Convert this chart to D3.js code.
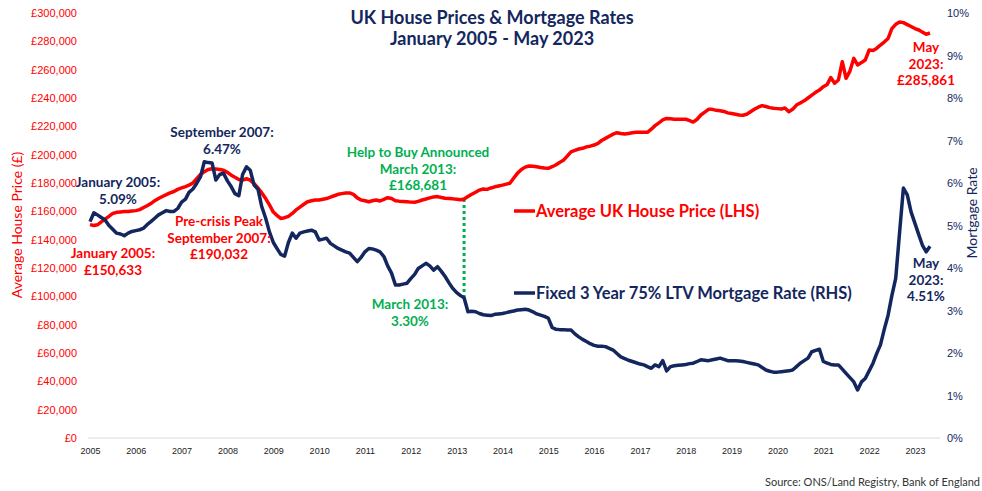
<!DOCTYPE html>
<html>
<head>
<meta charset="utf-8">
<script src="https://cdn.jsdelivr.net/npm/d3@7"></script>
<style>
  html, body { margin: 0; padding: 0; background: #fff; }
  svg { display: block; font-family: Lato, "Open Sans", sans-serif; }
</style>
</head>
<body>
<svg id="chart" width="982" height="491"></svg>
<script>
// monthly series, Jan 2005 - May 2023
var startYear = 2005;
var yearTicks = d3.range(2005, 2024);

// average UK house price, £ thousands
var housePriceK = [
  150.633, 150.0, 150.5, 152.5, 154.5, 156.5, 158.5, 159.3, 159.6, 159.8, 159.9, 160.2,
  160.5, 161.2, 162.5, 164.0, 165.5, 167.5, 169.0, 170.5, 171.8, 173.0, 174.0, 175.5,
  176.5, 177.5, 178.5, 180.0, 183.0, 186.0, 188.0, 189.5, 190.032, 189.8, 189.5, 189.0,
  187.5, 185.5, 184.0, 182.5, 182.0, 183.0, 182.0, 179.5, 176.5, 173.0, 169.0, 164.5,
  159.5, 157.0, 155.0, 155.5, 156.5, 158.5, 161.0, 163.0, 165.0, 166.8, 167.5, 168.0,
  168.0, 168.5, 169.0, 170.0, 171.0, 172.0, 172.5, 173.0, 173.0, 172.0, 169.5, 168.0,
  167.5, 166.8, 167.5, 168.0, 167.3, 168.5, 169.6, 169.0, 167.5, 167.2, 167.0, 166.8,
  166.5, 166.4, 167.0, 168.0, 168.7, 169.5, 170.2, 170.4, 169.8, 169.2, 169.0, 168.8,
  168.5, 168.2, 168.681, 170.4, 172.0, 173.5, 175.0, 175.8, 175.5, 176.5, 177.3, 177.9,
  178.5, 179.2, 179.8, 183.5, 187.0, 189.5, 191.2, 192.0, 191.8, 191.5, 191.0, 190.6,
  190.4, 191.5, 192.7, 194.5, 196.0, 199.0, 202.0, 203.0, 204.0, 204.5, 205.5, 206.0,
  206.8, 208.0, 210.0, 211.5, 213.0, 214.5, 215.5, 215.0, 214.6, 215.0, 215.4, 215.8,
  215.8, 215.8, 215.8, 218.0, 220.5, 222.5, 224.5, 225.6, 225.3, 225.0, 225.0, 225.0,
  225.0, 224.0, 223.0, 225.0, 228.0, 230.0, 232.0, 232.0, 231.3, 231.0, 230.5, 229.5,
  229.0, 228.5, 228.0, 227.8, 228.5, 230.3, 232.0, 233.5, 234.6, 234.0, 233.2, 232.7,
  232.5, 232.2, 233.0, 230.3, 232.0, 235.0, 236.5, 238.0, 240.0, 242.0, 244.0, 245.6,
  248.0, 249.6, 254.4, 250.4, 252.7, 265.6, 253.9, 259.0, 268.0, 263.3, 265.0, 266.8,
  273.9, 273.5, 275.0, 277.4, 279.5, 282.0, 289.0, 292.0, 293.6, 293.2, 291.8, 290.5,
  289.0, 288.0, 286.5, 285.0, 285.861
];

// fixed 3 year 75% LTV mortgage rate, %
var mortgageRate = [
  5.09, 5.30, 5.25, 5.19, 5.13, 5.00, 4.91, 4.82, 4.80, 4.76, 4.82, 4.86,
  4.88, 4.90, 4.93, 5.02, 5.09, 5.17, 5.25, 5.30, 5.35, 5.33, 5.33, 5.40,
  5.55, 5.62, 5.78, 5.86, 5.99, 6.15, 6.50, 6.48, 6.47, 6.07, 6.20, 6.23,
  6.05, 5.91, 5.75, 5.70, 6.20, 6.38, 6.30, 5.95, 5.85, 5.44, 5.17, 4.85,
  4.60, 4.45, 4.32, 4.28, 4.60, 4.82, 4.70, 4.82, 4.85, 4.87, 4.89, 4.85,
  4.66, 4.68, 4.70, 4.58, 4.52, 4.46, 4.42, 4.38, 4.35, 4.25, 4.15, 4.25,
  4.38, 4.46, 4.45, 4.42, 4.38, 4.27, 4.05, 3.88, 3.60, 3.60, 3.62, 3.64,
  3.75, 3.85, 3.99, 4.05, 4.11, 4.05, 3.95, 4.03, 3.92, 3.80, 3.65, 3.52,
  3.42, 3.35, 3.30, 2.97, 2.98, 2.97, 2.93, 2.90, 2.89, 2.88, 2.91, 2.92,
  2.93, 2.95, 2.97, 2.99, 3.01, 3.02, 3.03, 3.01, 2.97, 2.92, 2.89, 2.86,
  2.82, 2.60, 2.56, 2.55, 2.55, 2.54, 2.54, 2.45, 2.38, 2.32, 2.27, 2.22,
  2.18, 2.16, 2.16, 2.15, 2.11, 2.07, 1.99, 1.91, 1.87, 1.83, 1.80, 1.77,
  1.74, 1.72, 1.68, 1.64, 1.72, 1.68, 1.82, 1.58, 1.68, 1.70, 1.71, 1.72,
  1.73, 1.75, 1.76, 1.80, 1.84, 1.83, 1.82, 1.84, 1.86, 1.88, 1.85, 1.82,
  1.82, 1.82, 1.81, 1.80, 1.78, 1.76, 1.74, 1.72, 1.66, 1.60, 1.57, 1.55,
  1.55, 1.56, 1.57, 1.58, 1.60, 1.68, 1.76, 1.82, 1.88, 2.03, 2.06, 2.09,
  1.80, 1.76, 1.73, 1.72, 1.72, 1.62, 1.52, 1.42, 1.32, 1.13, 1.32, 1.40,
  1.58, 1.76, 1.98, 2.19, 2.55, 2.89, 3.35, 3.76, 4.85, 5.88, 5.72, 5.32,
  5.05, 4.78, 4.54, 4.38, 4.51
];

var priceTicks = d3.range(0, 300001, 20000);
var rateTicks = d3.range(0, 11, 1);

var RED = "#ff0000";
var NAVY = "#13275e";
var GREEN = "#00b050";

var svg = d3.select("#chart");

// months -> dates
var dates = housePriceK.map(function (d, i) {
  return new Date(startYear, i, 1);
});

var x = d3.scaleTime()
  .domain([dates[0], dates[dates.length - 1]])
  .range([90, 930]);
var yL = d3.scaleLinear().domain([0, 300000]).range([438, 13]);
var yR = d3.scaleLinear().domain([0, 10]).range([438, 13]);

// x axis base line
svg.append("line")
  .attr("x1", 88).attr("x2", 940)
  .attr("y1", yL(0)).attr("y2", yL(0))
  .attr("stroke", "#d9d9d9").attr("stroke-width", 1);

var xAxis = svg.append("g")
  .attr("transform", "translate(0," + yL(0) + ")")
  .call(d3.axisBottom(x)
    .tickValues(yearTicks.map(function (y) { return new Date(y, 0, 1); }))
    .tickFormat(d3.timeFormat("%Y"))
    .tickSize(0)
    .tickPadding(10));
xAxis.select(".domain").remove();
xAxis.selectAll("text")
  .attr("fill", "#222")
  .style("font-size", "9px");

// left axis
var leftAxis = svg.append("g")
  .attr("transform", "translate(77,0)")
  .call(d3.axisLeft(yL)
    .tickValues(priceTicks)
    .tickFormat(function (d) { return "£" + d3.format(",")(d); })
    .tickSize(0)
    .tickPadding(0));
leftAxis.select(".domain").remove();
leftAxis.selectAll("text")
  .attr("fill", RED)
  .style("font-size", "11px");

// right axis
var rightAxis = svg.append("g")
  .attr("transform", "translate(947,0)")
  .call(d3.axisRight(yR)
    .tickValues(rateTicks)
    .tickFormat(function (d) { return d + "%"; })
    .tickSize(0)
    .tickPadding(0));
rightAxis.select(".domain").remove();
rightAxis.selectAll("text")
  .attr("fill", NAVY)
  .style("font-size", "11px");

// axis titles
svg.append("text")
  .attr("transform", "translate(22,225) rotate(-90)")
  .attr("text-anchor", "middle")
  .attr("fill", RED)
  .style("font-size", "14px")
  .text("Average House Price (£)");

svg.append("text")
  .attr("transform", "translate(977,213) rotate(-90)")
  .attr("text-anchor", "middle")
  .attr("fill", NAVY)
  .style("font-size", "14px")
  .text("Mortgage Rate");

// title
svg.append("text")
  .attr("x", 492).attr("y", 24)
  .attr("text-anchor", "middle")
  .attr("fill", NAVY)
  .style("font-size", "18px").style("font-weight", "bold")
  .text("UK House Prices & Mortgage Rates");
svg.append("text")
  .attr("x", 492).attr("y", 45)
  .attr("text-anchor", "middle")
  .attr("fill", NAVY)
  .style("font-size", "18px").style("font-weight", "bold")
  .text("January 2005 - May 2023");

// lines
var priceLine = d3.line()
  .x(function (d, i) { return x(dates[i]); })
  .y(function (d) { return yL(d * 1000); });
var rateLine = d3.line()
  .x(function (d, i) { return x(dates[i]); })
  .y(function (d) { return yR(d); });

// help to buy marker (March 2013)
var htbIndex = (2013 - startYear) * 12 + 2;
svg.append("line")
  .attr("x1", x(dates[htbIndex])).attr("x2", x(dates[htbIndex]))
  .attr("y1", yL(housePriceK[htbIndex] * 1000))
  .attr("y2", yR(mortgageRate[htbIndex]))
  .attr("stroke", GREEN).attr("stroke-width", 3)
  .attr("stroke-dasharray", "3,3");

svg.append("path")
  .datum(housePriceK)
  .attr("d", priceLine)
  .attr("fill", "none")
  .attr("stroke", RED)
  .attr("stroke-width", 3.5)
  .attr("stroke-linejoin", "round");

svg.append("path")
  .datum(mortgageRate)
  .attr("d", rateLine)
  .attr("fill", "none")
  .attr("stroke", NAVY)
  .attr("stroke-width", 3.5)
  .attr("stroke-linejoin", "round");

// legend
var legend = [
  { label: "Average UK House Price (LHS)", color: RED, y: 211 },
  { label: "Fixed 3 Year 75% LTV Mortgage Rate (RHS)", color: NAVY, y: 293 }
];
legend.forEach(function (d) {
  svg.append("line")
    .attr("x1", 514).attr("x2", 535)
    .attr("y1", d.y).attr("y2", d.y)
    .attr("stroke", d.color).attr("stroke-width", 3.5);
  svg.append("text")
    .attr("x", 536).attr("y", d.y + 6)
    .attr("fill", d.color)
    .style("font-size", "16.5px").style("font-weight", "bold")
    .text(d.label);
});

// annotations
var notes = [
  { x: 118, y: 187, color: NAVY, lines: ["January 2005:", "5.09%"] },
  { x: 113, y: 258, color: RED, lines: ["January 2005:", "£150,633"] },
  { x: 222, y: 137, color: NAVY, lines: ["September 2007:", "6.47%"] },
  { x: 219, y: 226, color: RED, lines: ["Pre-crisis Peak", "September 2007:", "£190,032"] },
  { x: 418, y: 157, color: GREEN, lines: ["Help to Buy Announced", "March 2013:", "£168,681"] },
  { x: 410, y: 309, color: GREEN, lines: ["March 2013:", "3.30%"] },
  { x: 926, y: 52, color: RED, lines: ["May", "2023:", "£285,861"] },
  { x: 926, y: 268, color: NAVY, lines: ["May", "2023:", "4.51%"] }
];
notes.forEach(function (n) {
  var t = svg.append("text")
    .attr("text-anchor", "middle")
    .attr("fill", n.color)
    .style("font-size", "13.5px").style("font-weight", "bold");
  n.lines.forEach(function (s, i) {
    t.append("tspan")
      .attr("x", n.x)
      .attr("y", n.y + i * 16.5)
      .text(s);
  });
});

// source
svg.append("text")
  .attr("x", 980).attr("y", 486)
  .attr("text-anchor", "end")
  .attr("fill", "#333")
  .style("font-size", "11px")
  .text("Source: ONS/Land Registry, Bank of England");
</script>
</body>
</html>
